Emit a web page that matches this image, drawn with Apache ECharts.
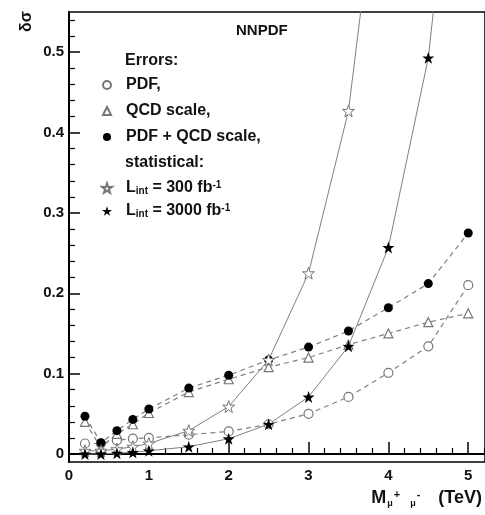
<!DOCTYPE html>
<html>
<head>
<meta charset="utf-8">
<script src="https://cdn.jsdelivr.net/npm/echarts@6/dist/echarts.min.js"></script>
<style>
  html, body { margin: 0; padding: 0; background: #fff; }
  #chart { width: 485px; height: 515px; }
</style>
</head>
<body>
<div id="chart"></div>
<script>
// M(mu+mu-) in TeV
const masses = [0.2, 0.4, 0.6, 0.8, 1, 1.5, 2, 2.5, 3, 3.5, 4, 4.5, 5];
const pdfErr = [0.013, 0.013, 0.017, 0.019, 0.02, 0.024, 0.028, 0.037, 0.05, 0.071, 0.101, 0.134, 0.21];
const qcdErr = [0.04, 0.008, 0.025, 0.037, 0.051, 0.077, 0.093, 0.108, 0.12, 0.136, 0.15, 0.164, 0.175];
const totErr = [0.047, 0.014, 0.029, 0.043, 0.056, 0.082, 0.098, 0.117, 0.133, 0.153, 0.182, 0.212, 0.275];
const stat300 = [0.004, 0.004, 0.006, 0.009, 0.013, 0.029, 0.059, 0.117, 0.225, 0.427, 0.83];
const stat3000 = [0, 0, 0.001, 0.002, 0.004, 0.009, 0.019, 0.037, 0.071, 0.134, 0.257, 0.493, 0.95];

const yMajor = [0, 0.1, 0.2, 0.3, 0.4, 0.5];
const yMinor = [0.02, 0.04, 0.06, 0.08, 0.12, 0.14, 0.16, 0.18, 0.22, 0.24, 0.26, 0.28,
  0.32, 0.34, 0.36, 0.38, 0.42, 0.44, 0.46, 0.48, 0.52, 0.54];
const xMajor = [0, 1, 2, 3, 4, 5];
const xMinor = [0.2, 0.4, 0.6, 0.8, 1.2, 1.4, 1.6, 1.8, 2.2, 2.4, 2.6, 2.8,
  3.2, 3.4, 3.6, 3.8, 4.2, 4.4, 4.6, 4.8, 5.2];

const STAR = 'path://M50,0 L61.8,35.1 L98.1,34.5 L69.1,56.7 L79.4,90.5 L50,70 L20.6,90.5 L30.9,56.7 L1.9,34.5 L38.2,35.1 Z';
const FONT = 'Liberation Sans';

function pairs(ys) {
  return ys.map((v, i) => [masses[i], v]);
}

const dashed = { color: '#808080', width: 1.2, type: [5, 4] };
const solid = { color: '#808080', width: 1 };

const names = {
  pdf: 'PDF,',
  qcd: 'QCD scale,',
  tot: 'PDF + QCD scale,',
  s300: 'L300',
  s3000: 'L3000'
};

const legendText = {
  fontFamily: FONT, fontWeight: 'bold', fontSize: 16, color: '#111', lineHeight: 16,
  padding: [0, 0, 0, 10],
  rich: {
    b: { fontFamily: FONT, fontWeight: 'bold', fontSize: 16, color: '#111', lineHeight: 16 },
    sub: { fontFamily: FONT, fontWeight: 'bold', fontSize: 10, color: '#111', verticalAlign: 'bottom', lineHeight: 10, padding: [6, 0, 0, 0] },
    sup: { fontFamily: FONT, fontWeight: 'bold', fontSize: 10, color: '#111', verticalAlign: 'top', lineHeight: 10, padding: [0, 0, 6, 0] }
  }
};

function legendFormat(name) {
  if (name === names.s300) return '{b|L}{sub|int}{b| = 300 fb}{sup|-1}';
  if (name === names.s3000) return '{b|L}{sub|int}{b| = 3000 fb}{sup|-1}';
  return name;
}

const chart = echarts.init(document.getElementById('chart'));
chart.setOption({
  animation: false,
  backgroundColor: '#fff',
  grid: { left: 69, top: 12, right: -5, bottom: 53, show: true, borderColor: '#000', borderWidth: 1.5 },
  legend: [{
    orient: 'vertical', left: 102, top: 77, padding: 0, itemWidth: 8, itemHeight: 8, itemGap: 10,
    selectedMode: false, textStyle: legendText, formatter: legendFormat,
    data: [
      { name: names.pdf, icon: 'circle' },
      { name: names.qcd, icon: 'triangle' },
      { name: names.tot, icon: 'circle' }
    ]
  }, {
    orient: 'vertical', left: 101, top: 180, padding: 0, itemWidth: 10, itemHeight: 10, itemGap: 7,
    selectedMode: false, textStyle: Object.assign({}, legendText, { padding: [0, 0, 0, 9] }), formatter: legendFormat,
    data: [
      { name: names.s300, icon: STAR },
      { name: names.s3000, icon: STAR }
    ]
  }],
  xAxis: [{
    type: 'value', min: 0, max: 5.21, position: 'bottom',
    axisLine: { show: true, lineStyle: { color: '#000', width: 2 } },
    axisTick: { show: true, inside: true, length: 12, customValues: xMajor, lineStyle: { color: '#000', width: 1.5 } },
    axisLabel: { customValues: xMajor, margin: 6, fontFamily: FONT, fontWeight: 'bold', fontSize: 15, color: '#111' },
    splitLine: { show: false }
  }, {
    type: 'value', min: 0, max: 5.21, position: 'bottom',
    axisLine: { show: false },
    axisTick: { show: true, inside: true, length: 6, customValues: xMinor, lineStyle: { color: '#000', width: 1.2 } },
    axisLabel: { show: false },
    splitLine: { show: false }
  }],
  yAxis: [{
    type: 'value', min: -0.01, max: 0.55, position: 'left',
    axisLine: { show: true, lineStyle: { color: '#000', width: 2 } },
    axisTick: { show: true, inside: true, length: 11, customValues: yMajor, lineStyle: { color: '#000', width: 1.5 } },
    axisLabel: { customValues: yMajor, margin: 5, fontFamily: FONT, fontWeight: 'bold', fontSize: 15, color: '#111' },
    splitLine: { show: false }
  }, {
    type: 'value', min: -0.01, max: 0.55, position: 'left',
    axisLine: { show: false },
    axisTick: { show: true, inside: true, length: 6, customValues: yMinor, lineStyle: { color: '#000', width: 1.2 } },
    axisLabel: { show: false },
    splitLine: { show: false }
  }],
  graphic: [
    { type: 'text', left: 236, top: 23, style: { text: 'NNPDF', font: 'bold 15px "Liberation Sans"', fill: '#111' } },
    { type: 'text', left: 125, top: 53, style: { text: 'Errors:', font: 'bold 16px "Liberation Sans"', fill: '#111' } },
    { type: 'text', left: 125, top: 155, style: { text: 'statistical:', font: 'bold 16px "Liberation Sans"', fill: '#111' } },
    { type: 'text', x: 27, y: 32, rotation: Math.PI / 2,
      style: { text: 'δσ', font: 'bold 16px "Liberation Sans"', fill: '#111', x: 0, y: 0, align: 'left', verticalAlign: 'middle' } },
    { type: 'text', right: 3, top: 489, style: {
      text: '{b|M}{sub|μ}{supA|+}{sub|μ}{supB|-}{b|(TeV)}',
      rich: {
        b: { font: 'bold 18px "Liberation Sans"', fill: '#111' },
        sub: { font: 'bold 9px "Liberation Sans"', fill: '#111', verticalAlign: 'bottom', padding: [8, 0, 0, 1] },
        supA: { font: 'bold 11px "Liberation Sans"', fill: '#111', verticalAlign: 'top', padding: [0, 9, 8, 1] },
        supB: { font: 'bold 11px "Liberation Sans"', fill: '#111', verticalAlign: 'top', padding: [0, 18, 8, 1] }
      }
    } }
  ],
  series: [{
    name: names.pdf, type: 'line', data: pairs(pdfErr), clip: true,
    symbol: 'circle', symbolSize: 9, lineStyle: dashed,
    itemStyle: { color: '#fff', borderColor: '#777', borderWidth: 1.2 }
  }, {
    name: names.qcd, type: 'line', data: pairs(qcdErr), clip: true,
    symbol: 'triangle', symbolSize: 9, lineStyle: dashed,
    itemStyle: { color: '#fff', borderColor: '#777', borderWidth: 1.2 }
  }, {
    name: names.tot, type: 'line', data: pairs(totErr), clip: true,
    symbol: 'circle', symbolSize: 9, lineStyle: dashed,
    itemStyle: { color: '#000', borderColor: '#000', borderWidth: 0 }
  }, {
    name: names.s300, type: 'line', data: pairs(stat300), clip: true,
    symbol: STAR, symbolSize: 12, lineStyle: solid,
    itemStyle: { color: '#fff', borderColor: '#777', borderWidth: 1 }
  }, {
    name: names.s3000, type: 'line', data: pairs(stat3000), clip: true,
    symbol: STAR, symbolSize: 12, lineStyle: solid,
    itemStyle: { color: '#000', borderColor: '#000', borderWidth: 0 }
  }]
});
</script>
</body>
</html>
